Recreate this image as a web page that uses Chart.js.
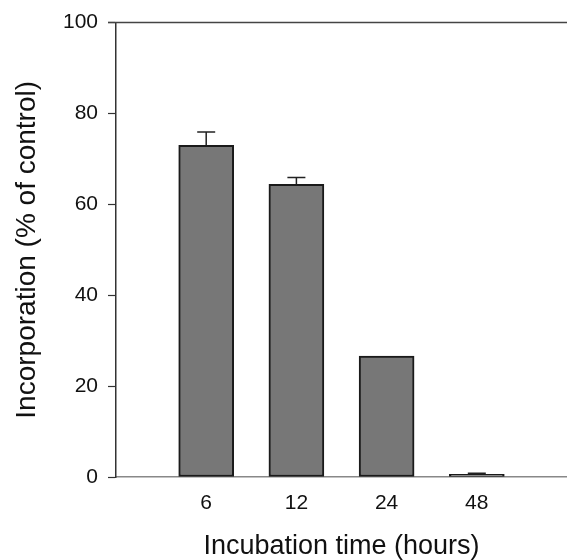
<!DOCTYPE html>
<html>
<head>
<meta charset="utf-8">
<script src="https://cdn.jsdelivr.net/npm/chart.js@4"></script>
<style>
  html, body { margin: 0; padding: 0; background: #fff; }
  #wrap { width: 567px; height: 560px; }
</style>
</head>
<body>
<div id="wrap"><canvas id="chart" width="567" height="560"></canvas></div>
<script>
// data (blank slots at both ends keep the spacing)
const hours = ['', '6', '12', '24', '48', ''];
const incorporation = [null, 73.0, 64.4, 26.6, 0.6, null];
const sem = [null, 2.9, 1.5, 0, 0.2, null];
const yTicks = [0, 20, 40, 60, 80, 100];

const FONT = '"Liberation Sans", Arial, sans-serif';

// upward-only error bars + top frame line
const extras = {
  id: 'extras',
  afterDatasetsDraw(chart) {
    const ctx = chart.ctx, x = chart.scales.x, y = chart.scales.y;
    ctx.save();
    ctx.strokeStyle = '#222';
    ctx.lineWidth = 1.5;
    incorporation.forEach((v, i) => {
      if (v == null || !sem[i]) return;
      const cx = x.getPixelForValue(i);
      const y0 = y.getPixelForValue(v), y1 = y.getPixelForValue(v + sem[i]);
      ctx.beginPath();
      ctx.moveTo(cx, y0); ctx.lineTo(cx, y1);
      ctx.moveTo(cx - 9, y1); ctx.lineTo(cx + 9, y1);
      ctx.stroke();
    });
    // top border line
    const a = chart.chartArea;
    ctx.strokeStyle = '#444';
    ctx.beginPath();
    ctx.moveTo(a.left - 8, a.top); ctx.lineTo(a.right, a.top);
    ctx.stroke();
    ctx.restore();
  }
};

new Chart(document.getElementById('chart'), {
  type: 'bar',
  data: {
    labels: hours,
    datasets: [{
      data: incorporation,
      backgroundColor: '#777777',
      borderColor: '#1a1a1a',
      borderWidth: 2,
      borderSkipped: false,
      barThickness: 55
    }]
  },
  options: {
    responsive: false,
    animation: false,
    layout: { padding: { top: 19, right: 0, left: 0, bottom: 0 } },
    plugins: { legend: { display: false }, tooltip: { enabled: false } },
    scales: {
      x: {
        offset: false,
        grid: { drawOnChartArea: false, color: 'rgba(0,0,0,0)', tickLength: 14 },
        border: { color: '#888', width: 1.5 },
        ticks: { color: '#111', font: { family: FONT, size: 21 }, padding: 0, maxRotation: 0, autoSkip: false },
        title: { display: true, text: 'Incubation time (hours)', color: '#111', font: { family: FONT, size: 27, lineHeight: 1 }, padding: 0 },
        afterFit: s => { s.height = 83; }
      },
      y: {
        min: 0, max: 100,
        afterBuildTicks: s => { s.ticks = yTicks.map(v => ({ value: v })); },
        grid: { drawOnChartArea: false, tickLength: 8, color: '#333', tickWidth: 1.2 },
        border: { color: '#333', width: 1.5 },
        ticks: { color: '#111', font: { family: FONT, size: 21 }, padding: 10 },
        title: { display: true, text: 'Incorporation (% of control)', color: '#111', font: { family: FONT, size: 28 }, padding: { top: 10, bottom: 0 } },
        afterFit: s => { s.width = 116; }
      }
    }
  },
  plugins: [extras]
});
</script>
</body>
</html>
